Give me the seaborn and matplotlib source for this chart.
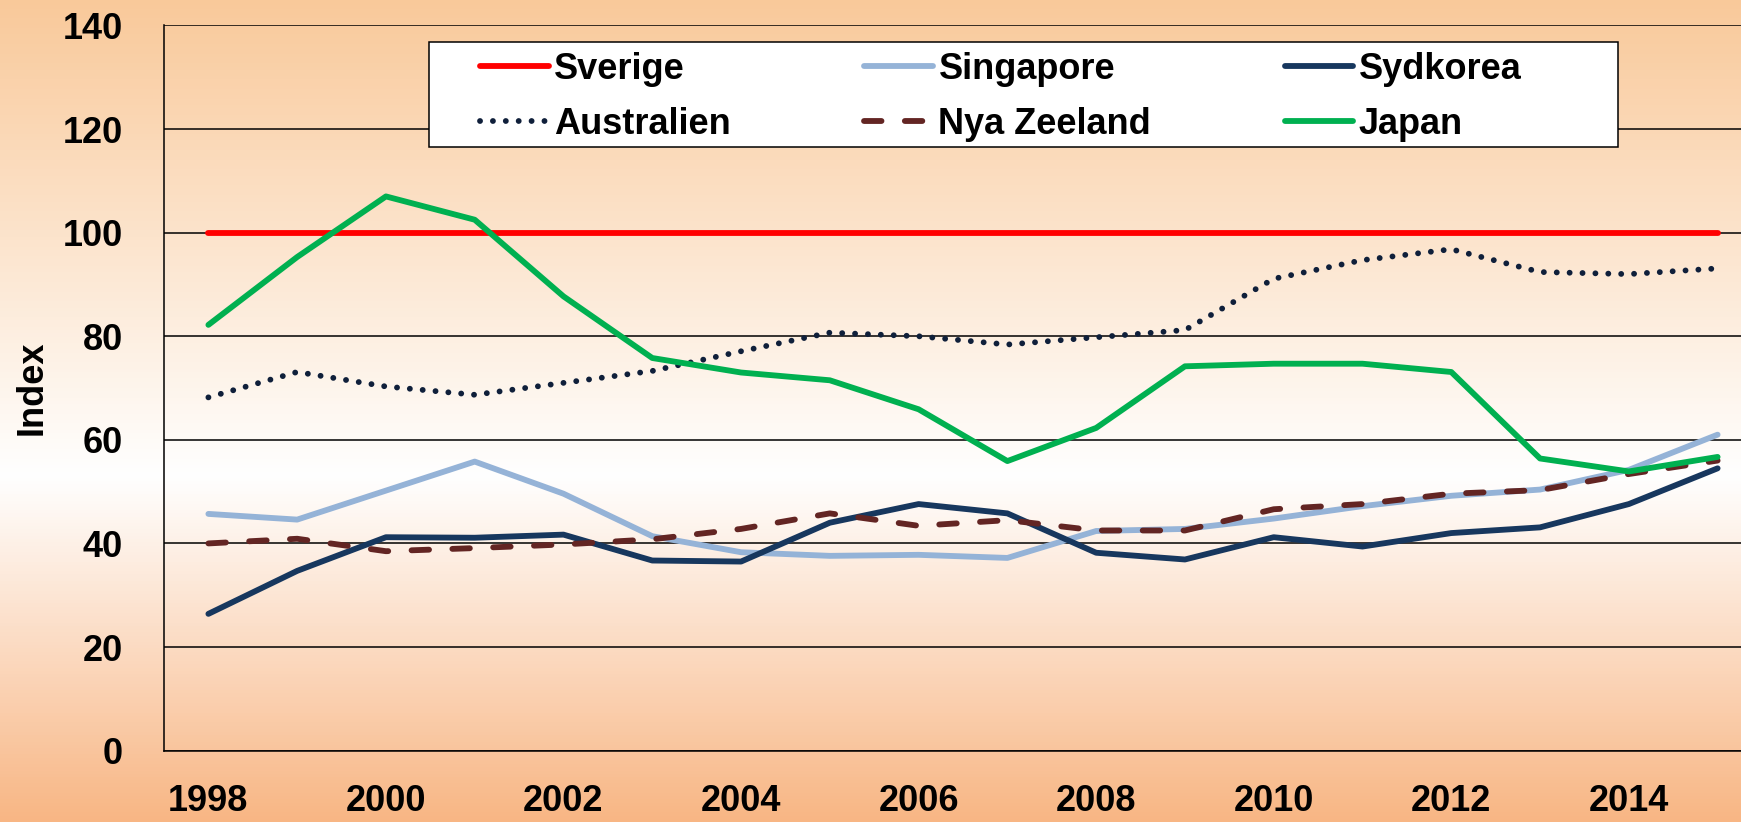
import numpy as np
import pandas as pd
import matplotlib
matplotlib.use("Agg")
import matplotlib.pyplot as plt
from matplotlib.colors import LinearSegmentedColormap
from matplotlib.patches import Rectangle
import seaborn as sns

# values
years = list(range(1998, 2016))
sverige = [100] * 18
singapore = [45.7, 44.6, 50.2, 55.8, 49.6, 41.4, 38.3, 37.6, 37.8, 37.2, 42.4, 42.8,
             44.8, 47.2, 49.2, 50.4, 54.2, 61.0]
sydkorea = [26.4, 34.7, 41.2, 41.1, 41.7, 36.7, 36.5, 44.0, 47.6, 45.8, 38.2, 36.9,
            41.2, 39.4, 42.0, 43.1, 47.6, 54.5]
australien = [68.2, 73.1, 70.3, 68.7, 71.0, 73.3, 77.1, 80.7, 80.0, 78.4, 79.8, 81.2,
              91.1, 94.7, 96.8, 92.4, 92.0, 93.1]
nya_zeeland = [40.0, 40.9, 38.5, 39.1, 39.8, 40.8, 42.8, 45.8, 43.4, 44.5, 42.5, 42.5,
               46.6, 47.6, 49.6, 50.3, 53.4, 56.0]
japan = [82.2, 95.3, 107.0, 102.5, 87.7, 75.8, 73.0, 71.5, 65.9, 55.9, 62.3, 74.2,
         74.7, 74.7, 73.1, 56.4, 53.9, 56.7]

series = {
    "Sverige": sverige,
    "Singapore": singapore,
    "Sydkorea": sydkorea,
    "Australien": australien,
    "Nya Zeeland": nya_zeeland,
    "Japan": japan,
}
order = list(series.keys())
colors = ["#FF0000", "#95B3D7", "#17375E", "#0F1F3A", "#632523", "#00B050"]
dash_styles = {"Sverige": "", "Singapore": "", "Sydkorea": "",
               "Australien": (0.01, 2.2), "Nya Zeeland": (3.0, 4.0), "Japan": ""}

df = pd.DataFrame([(y, name, v) for name, vals in series.items() for y, v in zip(years, vals)],
                  columns=["Year", "Land", "Index"])

sns.set_style("white")
plt.rcParams["font.family"] = ["Liberation Sans", "DejaVu Sans"]
plt.rcParams["font.weight"] = "bold"
plt.rcParams["axes.labelweight"] = "bold"
plt.rcParams["text.color"] = "black"
plt.rcParams["axes.labelcolor"] = "black"
plt.rcParams["xtick.color"] = "black"
plt.rcParams["ytick.color"] = "black"
plt.rcParams["lines.dash_capstyle"] = "round"
plt.rcParams["lines.solid_capstyle"] = "round"

W, H = 1741, 822
fig = plt.figure(figsize=(W / 100, H / 100), dpi=100)
fig.patch.set_alpha(0)

# gradient background
bg = fig.add_axes([0, 0, 1, 1], zorder=-1)
cmap = LinearSegmentedColormap.from_list(
    "bg", [(0.0, "#F9C99A"), (0.58, "#FFFFFF"), (1.0, "#F8B684")])
grad = np.linspace(0, 1, 256).reshape(-1, 1)
bg.imshow(grad, aspect="auto", cmap=cmap, extent=[0, 1, 0, 1])
bg.axis("off")

left, right_px, top_px, bot_px = 164, 1762, 25.5, 750.6
ax = fig.add_axes([left / W, 1 - bot_px / H, (right_px - left) / W, (bot_px - top_px) / H])
ax.patch.set_alpha(0)

sns.lineplot(data=df, x="Year", y="Index", hue="Land", style="Land",
             hue_order=order, style_order=order, palette=colors,
             dashes=dash_styles, linewidth=4.2, legend=False, ax=ax)

ax.set_ylim(0, 140)
ax.set_yticks(range(0, 141, 20))
ax.set_xlim(1997.5, 2015.5)
ax.set_xticks(np.arange(1997.5, 2016, 1))
ax.set_xticklabels([])
ax.set_xticks(range(1998, 2015, 2), minor=True)
ax.set_xticklabels([str(y) for y in range(1998, 2015, 2)], minor=True)
ax.tick_params(axis="x", which="major", length=9.1, width=1.1, direction="out", color="black")
ax.tick_params(axis="x", which="minor", length=0, pad=24, labelsize=26)
ax.tick_params(axis="y", length=9.5, width=1.1, direction="out", pad=20, labelsize=26,
               color="black")
ax.set_xlabel("")
ax.set_ylabel("Index", fontsize=26, fontweight="bold")
ax.yaxis.set_label_coords(-0.0713, 0.5)

ax.yaxis.grid(True, color="black", linewidth=1.1)
ax.xaxis.grid(False)
ax.set_axisbelow(True)
for s in ["top", "right"]:
    ax.spines[s].set_visible(False)
for s in ["left", "bottom"]:
    ax.spines[s].set_color("black")
    ax.spines[s].set_linewidth(1.1)

# legend box and entries
box = Rectangle((429 / W, 1 - 147 / H), (1618 - 429) / W, (147 - 42) / H,
                transform=fig.transFigure, facecolor="white", edgecolor="black",
                linewidth=1.1, zorder=4)
fig.add_artist(box)
lines = {name: ln for name, ln in zip(order, ax.lines)}
leg_order = ["Sverige", "Australien", "Singapore", "Nya Zeeland", "Sydkorea", "Japan"]
fig.legend([lines[n] for n in leg_order], leg_order, loc="upper left",
           bbox_to_anchor=(480 / W, 1 - 52 / H), ncol=3, frameon=False,
           fontsize=26, borderpad=0, borderaxespad=0, handlelength=1.9,
           handletextpad=0.15, columnspacing=3.7, labelspacing=0.55)

fig.savefig("out.png", dpi=100)
